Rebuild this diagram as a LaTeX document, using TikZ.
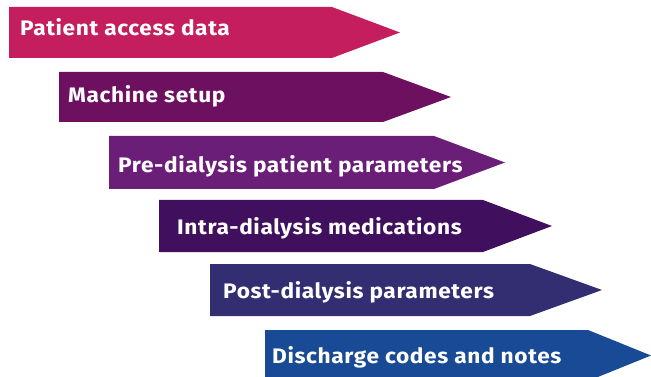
\documentclass[tikz,border=0pt]{standalone}
\usepackage{fontspec}
\setmainfont{Fira Sans}[FakeStretch=1.08,LetterSpace=3]
\definecolor{c1}{HTML}{C41E5E}
\definecolor{c2}{HTML}{6D1060}
\definecolor{c3}{HTML}{6A1E78}
\definecolor{c4}{HTML}{40105E}
\definecolor{c5}{HTML}{332D72}
\definecolor{c6}{HTML}{184A95}
\tikzset{
  steplabel/.style={anchor=base west, text=white, font=\bfseries\fontsize{21}{21}\selectfont, inner sep=0pt}
}
\begin{document}
\begin{tikzpicture}[x=1pt,y=-1pt]
\useasboundingbox (0,0) rectangle (651,377);
\fill[c1] (9,7) -- (332,7) -- (400,32.5) -- (332,58) -- (9,58) -- cycle;
\node[steplabel] (s1) at (20,36) {Patient access data};
\fill[c2] (59,72) -- (383,72) -- (451,97) -- (383,122) -- (59,122) -- cycle;
\node[steplabel] (s2) at (68,103) {Machine setup};
\fill[c3] (109,136) -- (434,136) -- (505,162.5) -- (434,189) -- (109,189) -- cycle;
\node[steplabel] (s3) at (118,172) {Pre-dialysis patient parameters};
\fill[c4] (159,200) -- (483,200) -- (552,226) -- (483,252) -- (159,252) -- cycle;
\node[steplabel] (s4) at (177,234) {Intra-dialysis medications};
\fill[c5] (210,264) -- (530,264) -- (602,290) -- (530,316) -- (210,316) -- cycle;
\node[steplabel] (s5) at (223,298) {Post-dialysis parameters};
\fill[c6] (265,330) -- (588,330) -- (651,355.5) -- (588,381) -- (265,381) -- cycle;
\node[steplabel] (s6) at (272,363) {Discharge codes and notes};
\end{tikzpicture}
\end{document}
